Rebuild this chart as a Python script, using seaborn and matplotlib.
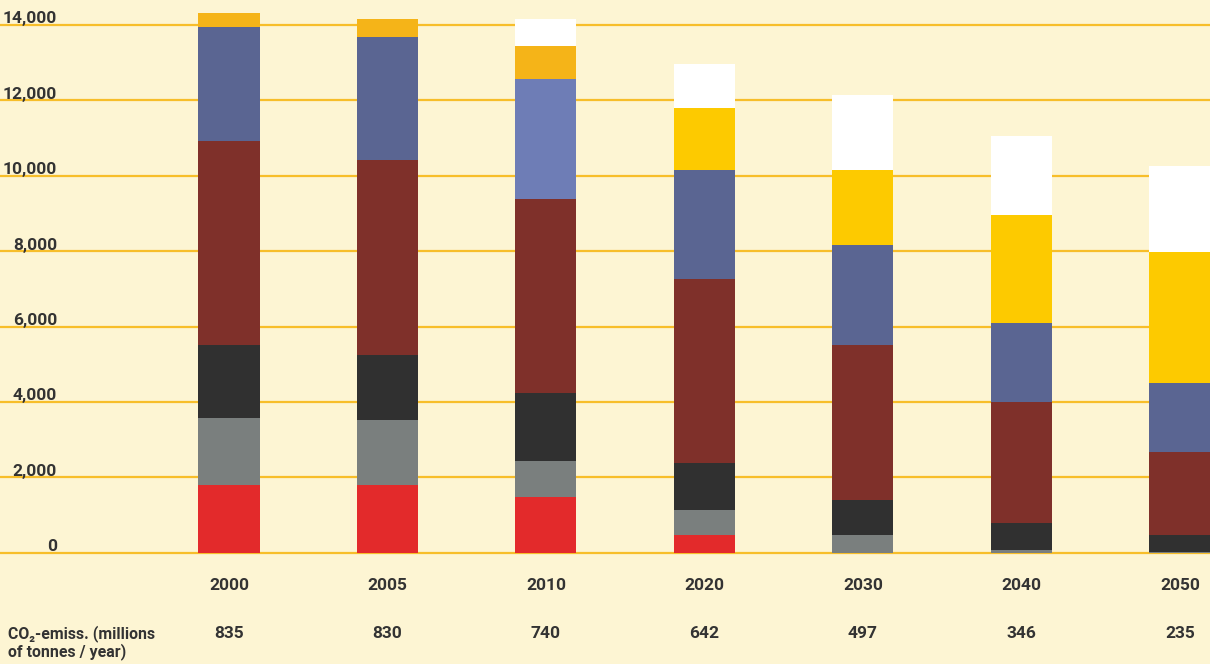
import numpy as np
import pandas as pd
import seaborn as sns
import matplotlib.pyplot as plt
from matplotlib.transforms import blended_transform_factory


# dati del grafico (segmenti dal basso verso l'alto)
years = ["2000", "2005", "2010", "2020", "2030", "2040", "2050"]
co2_emiss = ["835", "830", "740", "642", "497", "346", "235"]
red = [1800, 1800, 1480, 480, 0, 0, 0]
gray = [1780, 1720, 960, 660, 480, 80, 30]
black = [1930, 1730, 1800, 1240, 920, 720, 450]
brown = [5400, 5160, 5140, 4880, 4110, 3200, 2200]
blue = [3020, 3260, 0, 2890, 2650, 2090, 1820]
light_blue = [0, 0, 3180, 0, 0, 0, 0]
orange = [370, 480, 870, 0, 0, 0, 0]
yellow = [0, 0, 0, 1640, 1990, 2860, 3470]
white = [0, 0, 720, 1160, 1980, 2100, 2280]
y_ticks = [0, 2000, 4000, 6000, 8000, 10000, 12000, 14000]

series = [
    (red, "#E32A2B"),
    (gray, "#7A7F7E"),
    (black, "#303030"),
    (brown, "#7F302A"),
    (blue, "#5A6592"),
    (light_blue, "#6E7DB6"),
    (orange, "#F5B418"),
    (yellow, "#FDCA00"),
    (white, "#FFFFFF"),
]

bg = "#FDF5D3"
txt = "#333333"
font = ["Roboto", "DejaVu Sans"]

sns.set_style("white")
plt.rcParams["font.family"] = font

fig = plt.figure(figsize=(12.1, 6.64), dpi=100)
fig.patch.set_facecolor(bg)
ax = fig.add_axes([0, 108 / 664, 1, 556 / 664])
ax.set_facecolor(bg)

bottom = np.zeros(len(years))
for vals, col in series:
    df = pd.DataFrame({"year": years, "value": vals})
    sns.barplot(data=df, x="year", y="value", order=years, color=col,
                saturation=1, width=0.385, bottom=bottom, ax=ax, zorder=3,
                linewidth=0)
    bottom = bottom + np.array(vals)

ax.set_xlim(-1.445, 6.19)
ax.set_ylim(-80, 14650)
ax.set_yticks(y_ticks)
ax.set_yticklabels([])
ax.set_xticks([])
ax.set_xlabel("")
ax.set_ylabel("")
ax.tick_params(length=0)
ax.yaxis.grid(True, color="#F7BE2A", linewidth=1.6, zorder=0)
ax.xaxis.grid(False)
ax.set_axisbelow(True)
for s in ax.spines.values():
    s.set_visible(False)

# etichette asse y sopra le linee
tr = blended_transform_factory(ax.transAxes, ax.transData)
for t in y_ticks:
    ax.text(57 / 1210, t + 40, f"{t:,}", transform=tr, ha="right", va="baseline",
            fontsize=12.5, fontweight="bold", color=txt)

# anni ed emissioni sotto il grafico
trx = blended_transform_factory(ax.transData, fig.transFigure)
for i, (yr, em) in enumerate(zip(years, co2_emiss)):
    ax.text(i, 1 - 586 / 664, yr, transform=trx, ha="center", va="center",
            fontsize=12.5, fontweight="bold", color=txt)
    ax.text(i, 1 - 634 / 664, em, transform=trx, ha="center", va="center",
            fontsize=12.5, fontweight="bold", color=txt)

fig.text(8 / 1210, 1 - 625 / 664, "CO\u2082-emiss. (millions\nof tonnes / year)",
         ha="left", va="top", fontsize=11.4, fontweight="bold", color=txt,
         linespacing=1.05)

fig.savefig("out.png", dpi=100, facecolor=bg)
plt.close()
